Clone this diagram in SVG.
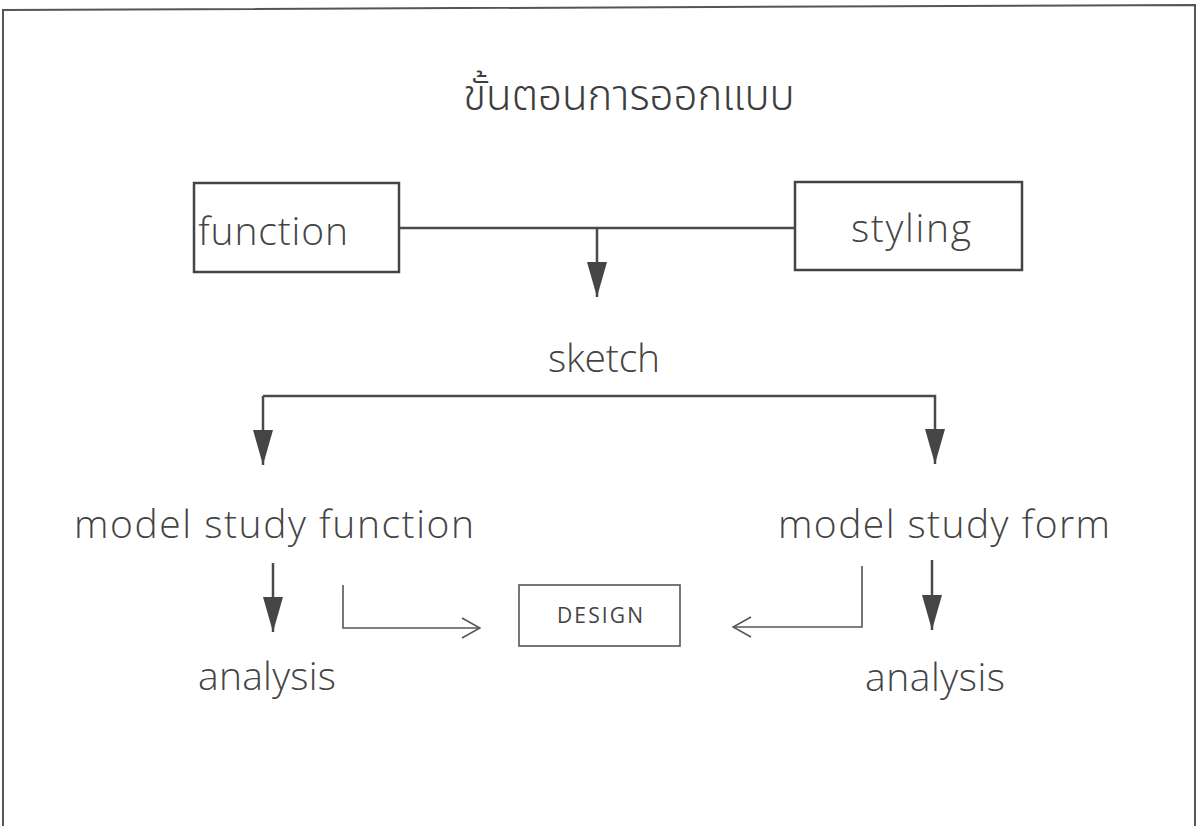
<svg xmlns="http://www.w3.org/2000/svg" width="1197" height="826" viewBox="0 0 1197 826">
  <defs>
    <style>
      .frame { fill: none; stroke: #555; stroke-width: 2; }
      .box { fill: #fff; stroke: #444; stroke-width: 2.5; }
      .wire { fill: none; stroke: #4a4a4a; stroke-width: 2.5; }
      .thin { fill: none; stroke: #555; stroke-width: 1.6; }
      .lbl { font-family: "Open Sans", Lato, "Liberation Sans", sans-serif; font-weight: 300; fill: #444; text-anchor: middle; }
      .th { font-family: "Noto Sans Thai", "Noto Sans", "DejaVu Sans", sans-serif; font-weight: 300; fill: #3d3d3d; text-anchor: middle; }
    </style>
    <marker id="solid" viewBox="0 0 35 20" refX="35" refY="10" markerWidth="35" markerHeight="20" markerUnits="userSpaceOnUse" orient="auto">
      <path d="M0,0 L35,10 L0,20 Z" fill="#454545"/>
    </marker>
    <marker id="open" viewBox="0 0 20 24" refX="19" refY="12" markerWidth="20" markerHeight="24" markerUnits="userSpaceOnUse" orient="auto">
      <path d="M1,2 L19,12 L1,22" fill="none" stroke="#555" stroke-width="1.6"/>
    </marker>
  </defs>

  <rect width="1197" height="826" fill="#fff"/>
  <!-- page frame -->
  <path class="frame" d="M3,830 L3,10 L1195,5 L1195,830"/>

  <!-- title -->
  <text class="th" x="629" y="110" font-size="42">ขั้นตอนการออกแบบ</text>

  <g id="connectors">
    <!-- function / styling merge into sketch -->
    <path class="wire" d="M398,228 L795,228"/>
    <path class="wire" d="M597,228 L597,297" marker-end="url(#solid)"/>
    <!-- sketch splits into the two model studies -->
    <path class="wire" d="M263,396 L935,396 L935,464" marker-end="url(#solid)"/>
    <path class="wire" d="M263,396 L263,465" marker-end="url(#solid)"/>
    <!-- model studies down to analysis -->
    <path class="wire" d="M273,563 L273,632" marker-end="url(#solid)"/>
    <path class="wire" d="M932,560 L932,630" marker-end="url(#solid)"/>
    <!-- model studies feed the design -->
    <path class="thin" d="M343,585 L343,628 L480,628" marker-end="url(#open)"/>
    <path class="thin" d="M862,566 L862,627 L733,627" marker-end="url(#open)"/>
  </g>

  <g id="node-function">
    <rect class="box" x="194" y="183" width="205" height="89"/>
    <text class="lbl" x="273" y="245" font-size="39" textLength="150" lengthAdjust="spacing">function</text>
  </g>

  <g id="node-styling">
    <rect class="box" x="795" y="182" width="227" height="88"/>
    <text class="lbl" x="911" y="242" font-size="39" textLength="120" lengthAdjust="spacing">styling</text>
  </g>

  <g id="node-sketch">
    <text class="lbl" x="604" y="372" font-size="39" textLength="112" lengthAdjust="spacing">sketch</text>
  </g>

  <g id="node-model-function">
    <text class="lbl" x="274" y="538" font-size="39" textLength="400" lengthAdjust="spacing">model study function</text>
  </g>

  <g id="node-model-form">
    <text class="lbl" x="944" y="538" font-size="39" textLength="332" lengthAdjust="spacing">model study form</text>
  </g>

  <g id="node-design">
    <rect class="thin" x="519" y="585" width="161" height="61"/>
    <text class="lbl" x="600" y="623" font-size="21" style="font-weight:400" textLength="86" lengthAdjust="spacing">DESIGN</text>
  </g>

  <g id="node-analysis-left">
    <text class="lbl" x="267" y="690" font-size="39" textLength="138" lengthAdjust="spacing">analysis</text>
  </g>

  <g id="node-analysis-right">
    <text class="lbl" x="935" y="691" font-size="39" textLength="140" lengthAdjust="spacing">analysis</text>
  </g>
</svg>
